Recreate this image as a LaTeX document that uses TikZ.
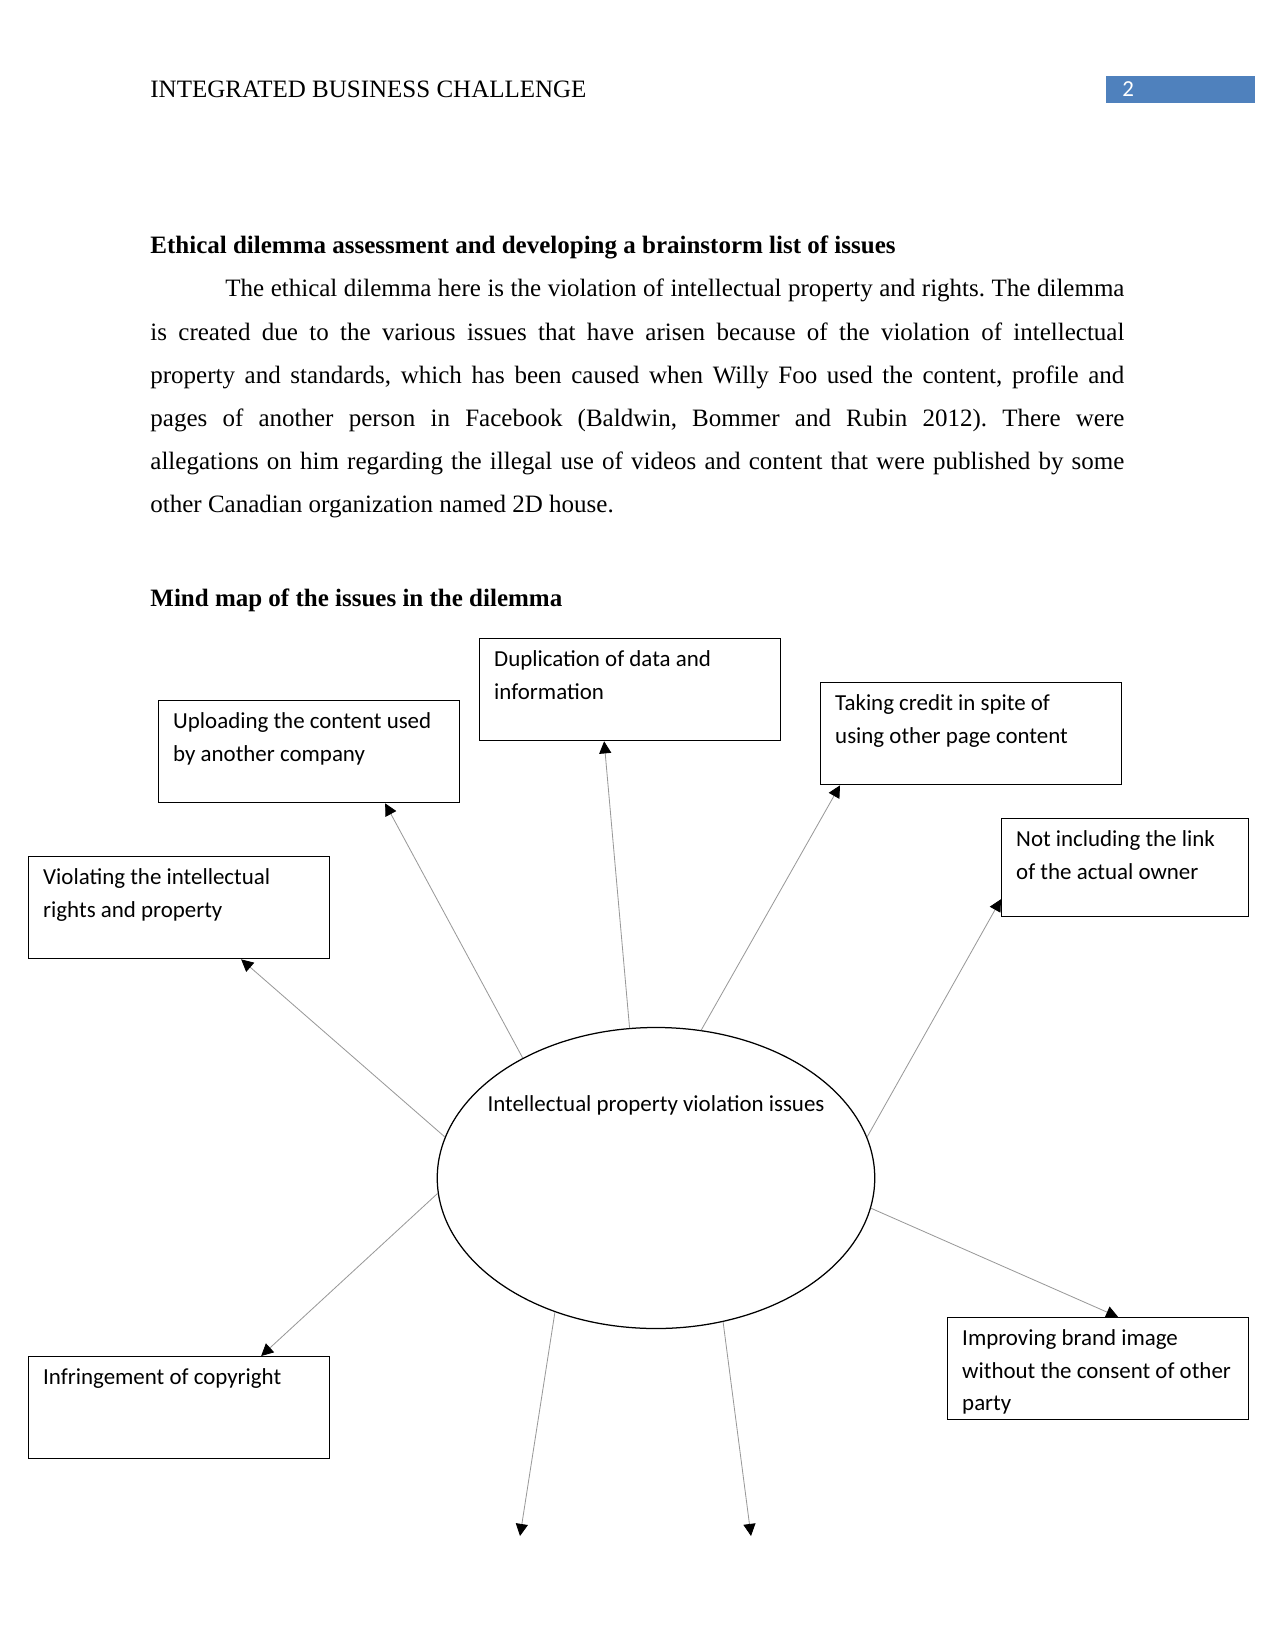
\documentclass[tikz,border=0pt]{standalone}
\usepackage{fontspec}
\setmainfont{Liberation Serif}
\newfontfamily\boxfont{Carlito}
\usetikzlibrary{positioning,shapes.geometric,arrows.meta,calc}
\definecolor{headerblue}{RGB}{79, 129, 189}

\begin{document}
\begin{tikzpicture}[x=0.48pt, y=-0.48pt,
        issue/.style={draw, line width=0.6pt, anchor=north west,
                    align=flush left, inner xsep=7pt, inner ysep=4pt,
                    text width=130.5pt, text height=9.4pt, text depth=31.6pt,
                    font=\boxfont\fontsize{11pt}{15.6pt}\selectfont},
        hub/.style={draw, ellipse, line width=0.6pt, inner sep=0pt,
                    minimum width=210pt, minimum height=144.5pt},
        link/.style={draw=gray!80, line width=0.4pt,
                    -{Triangle[length=5.8pt, width=5.8pt, color=black]}},
        heading/.style={anchor=base west, font=\bfseries\fontsize{12pt}{14pt}\selectfont}
    ]
    \useasboundingbox (0,0) rectangle (1275,1650);

    % Page header
    \node[anchor=base west, inner sep=0pt, font=\fontsize{12pt}{14pt}\selectfont]
        (title) at (150,98) {INTEGRATED BUSINESS CHALLENGE};
    \node[fill=headerblue, anchor=north west, inner sep=0pt,
          minimum width=71.5pt, minimum height=13pt] (pagebar) at (1106,76) {};
    \node[anchor=base west, inner sep=0pt, text=white,
          font=\boxfont\fontsize{11pt}{13pt}\selectfont] (pagenum) at (1122,97) {2};

    % Text above the map
    \node[heading, inner sep=0pt] (dilemma) at (150,254)
        {Ethical dilemma assessment and developing a brainstorm list of issues};
    \node[anchor=base west, inner sep=0pt, text width=467.5pt, align=justify,
          font=\frenchspacing\fontsize{12pt}{20.7pt}\selectfont] (body) at (150,297)
        {\hspace*{36pt}The ethical dilemma here is the violation of intellectual property and rights. The dilemma\linebreak
        is created due to the various issues that have arisen because of the violation of intellectual\linebreak
        property and standards, which has been caused when Willy Foo used the content, profile and\linebreak
        pages of another person in Facebook (Baldwin, Bommer and Rubin 2012). There were\linebreak
        allegations on him regarding the illegal use of videos and content that were published by some\linebreak
        other Canadian organization named 2D house.};
    \node[heading, inner sep=0pt] (maptitle) at (150,606)
        {Mind map of the issues in the dilemma};

    % Centre of the map
    \node[hub] (hub) at (656,1178) {};
    \node[anchor=base, inner sep=0pt, font=\boxfont\fontsize{11pt}{13pt}\selectfont]
        (hubtitle) at (656,1111) {Intellectual property violation issues};

    % Issue boxes
    \node[issue] (dup)      at (479,638)  {Duplication of data and\\ information};
    \node[issue] (upload)   at (158,700)  {Uploading the content used\\ by another company};
    \node[issue] (credit)   at (820,682)  {Taking credit in spite of\\ using other page content};
    \node[issue, text width=104.5pt, text depth=29.6pt]
                 (ownerlink) at (1001,818) {Not including the link\\ of the actual owner};
    \node[issue] (viol)     at (28,856)   {Violating the intellectual\\ rights and property};
    \node[issue] (infringe) at (28,1356)  {Infringement of copyright};
    \node[issue] (brand)    at (947,1317) {Improving brand image\\ without the consent of other\\ party};

    % Loose arrow ends
    \coordinate (looseL) at (520,1536);
    \coordinate (looseR) at (751,1536);

    % Spokes
    \draw[link] (hub.169) -- ($(viol.south)+(62,0)$);
    \draw[link] (hub.138.6) -- ($(upload.south)+(76,0)$);
    \draw[link] (hub.100.5) -- ($(dup.south)+(-26,0)$);
    \draw[link] (hub.73) -- ($(credit.south west)+(20,0)$);
    \draw[link] (hub.11) -- ($(ownerlink.south west)+(0,-18)$);
    \draw[link] (hub.352) -- ($(brand.north)+(20,0)$);
    \draw[link] (hub.184) -- ($(infringe.north)+(82,0)$);
    \draw[link] (hub.233.4) -- (looseL);
    \draw[link] (hub.295) -- (looseR);

\end{tikzpicture}
\end{document}
